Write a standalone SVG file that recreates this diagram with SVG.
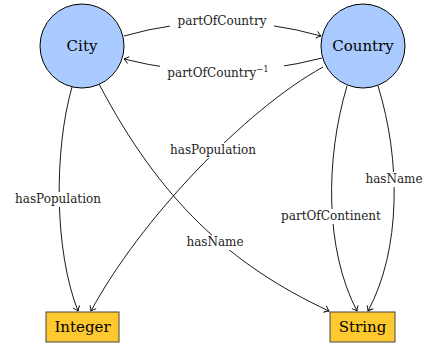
<svg xmlns="http://www.w3.org/2000/svg" width="425" height="344" viewBox="0 0 425 344">
<defs>
<style>
.node circle{fill:#aacbff;stroke:#000;stroke-width:1}
.node rect{fill:#fdc92f;stroke:#444;stroke-width:1}
.nt{font-family:"DejaVu Serif","Liberation Serif",serif;font-size:15px;text-anchor:middle;fill:#000}
.lt{font-family:"DejaVu Serif","Liberation Serif",serif;font-size:12px;text-anchor:middle;fill:#222}
.e{fill:none;stroke:#000;stroke-width:0.9;marker-end:url(#arr)}
.bg{fill:#fff}
</style>
<marker id="arr" viewBox="-6 -5 8 10" markerWidth="8" markerHeight="10" refX="0" refY="0" orient="auto" markerUnits="userSpaceOnUse">
<path d="M-4.5,-3.5 Q-1.5,-0.8 0,0 Q-1.5,0.8 -4.5,3.5" fill="none" stroke="#000" stroke-width="0.9"/>
</marker>
</defs>
<g id="connectors">
<path class="e" d="M124,36 Q222,8 321,36"/>
<path class="e" d="M322,58 Q222,84 124,59"/>
<path class="e" d="M72,87 C54,150 54,250 78,311"/>
<path class="e" d="M99,84 C160,200 230,265 329,311"/>
<path class="e" d="M323,67 C245,110 140,220 91,311"/>
<path class="e" d="M347,86 C325,160 325,250 357,311"/>
<path class="e" d="M378,86 C401,160 401,250 368,311"/>
<g id="labels">
<rect class="bg" x="170" y="13" width="104" height="15"/>
<text class="lt" x="222" y="25">partOfCountry</text>
<rect class="bg" x="160" y="63" width="124" height="18"/>
<text class="lt" x="218" y="77">partOfCountry<tspan font-size="8.5" dy="-5">−1</tspan></text>
<rect class="bg" x="163" y="143" width="100" height="15"/>
<text class="lt" x="213" y="154">hasPopulation</text>
<rect class="bg" x="8" y="192" width="100" height="15"/>
<text class="lt" x="58" y="203">hasPopulation</text>
<rect class="bg" x="183" y="235" width="64" height="15"/>
<text class="lt" x="215" y="246">hasName</text>
<rect class="bg" x="272" y="209" width="118" height="15"/>
<text class="lt" x="331" y="220">partOfContinent</text>
<rect class="bg" x="364" y="172" width="61" height="15"/>
<text class="lt" x="394" y="183">hasName</text>
</g>
</g>
<g id="City" class="node">
<circle cx="82" cy="46" r="42"/>
<text class="nt" x="82" y="51">City</text>
</g>
<g id="Country" class="node">
<circle cx="363" cy="46" r="42"/>
<text class="nt" x="363" y="51">Country</text>
</g>
<g id="Integer" class="node">
<rect x="46" y="312" width="73" height="30"/>
<text class="nt" x="82.5" y="332">Integer</text>
</g>
<g id="String" class="node">
<rect x="330" y="312" width="65" height="30"/>
<text class="nt" x="362.5" y="332">String</text>
</g>
</svg>
